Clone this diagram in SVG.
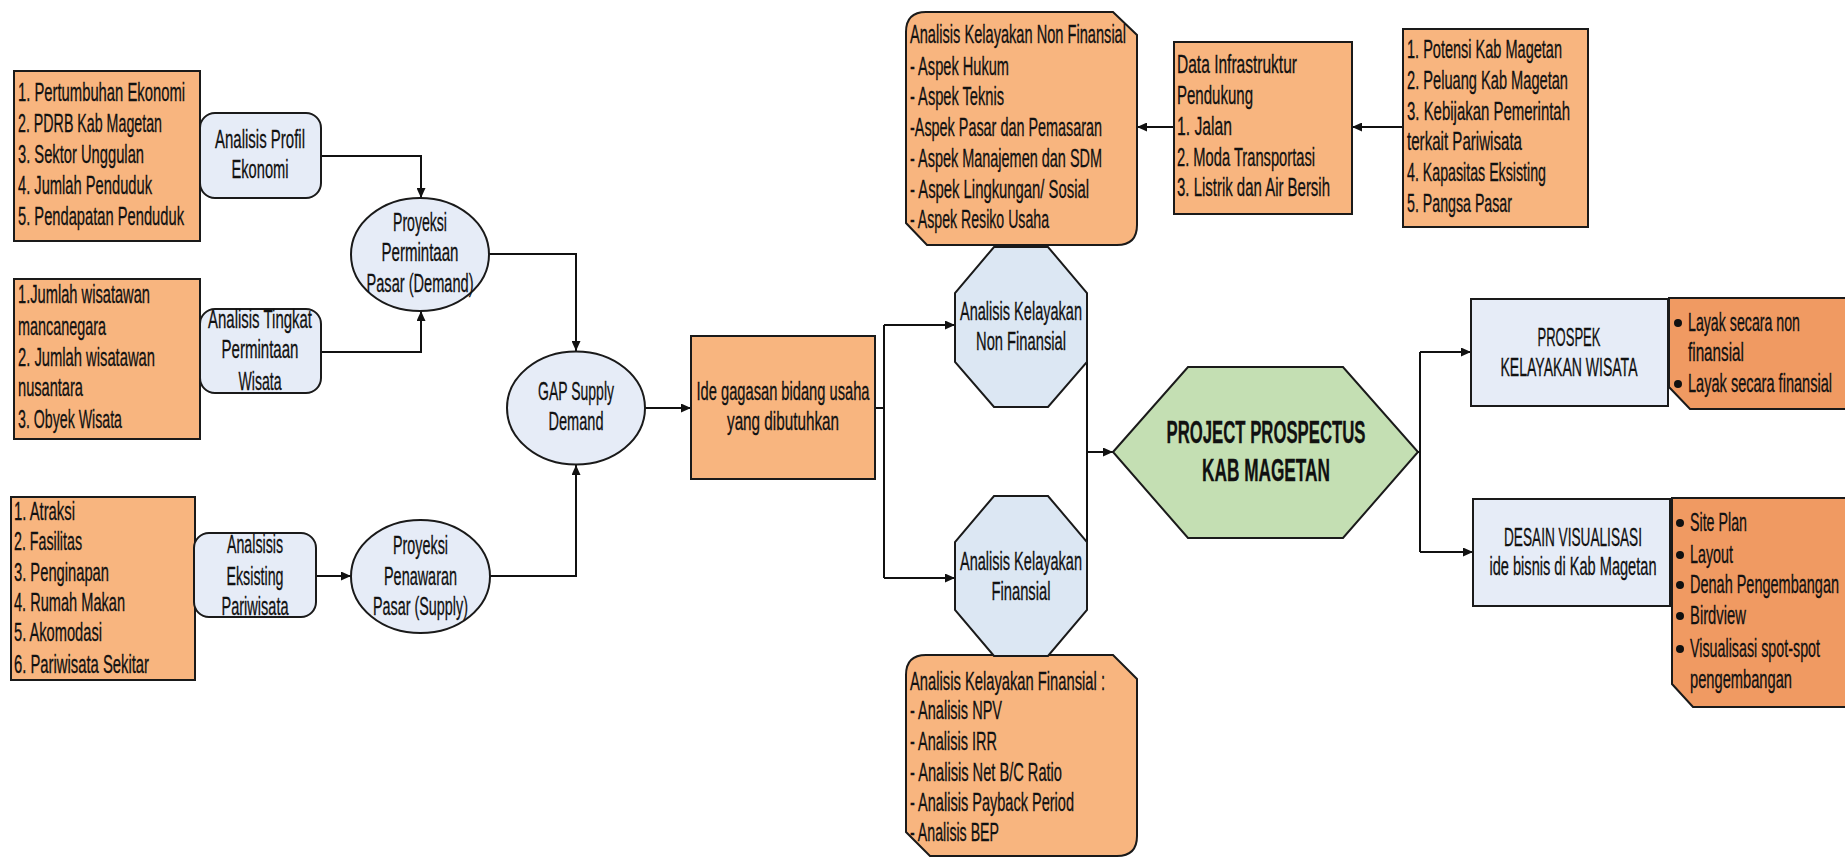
<svg xmlns="http://www.w3.org/2000/svg" width="1845" height="857" viewBox="0 0 1845 857">
<style>
.o{fill:#F8B57F;stroke:#1a1a1a;stroke-width:2}
.o2{fill:#F09A62;stroke:#1a1a1a;stroke-width:2}
.b{fill:#E6ECF7;stroke:#1a1a1a;stroke-width:2}
.oc{fill:#DCE7F3;stroke:#1a1a1a;stroke-width:2}
.g{fill:#C4DFB3;stroke:#1a1a1a;stroke-width:2}
text{font-family:"Liberation Sans",Arial,sans-serif;font-size:25px;fill:#111;stroke:#111;stroke-width:0.3}
.c{text-anchor:middle}
.bold{font-weight:bold;font-size:32px}
.conn{fill:none;stroke:#111;stroke-width:2}
.ar{marker-end:url(#ah)}
</style>
<defs>
<marker id="ah" markerUnits="userSpaceOnUse" markerWidth="11" markerHeight="9" refX="10" refY="4.5" orient="auto">
<path d="M0,0 L10,4.5 L0,9 z" fill="#111"/>
</marker>
</defs>
<rect width="1845" height="857" fill="#fff"/>

<g id="connectors">
<path class="conn ar" d="M321,156 H421 V198"/>
<path class="conn ar" d="M321,352 H421 V311"/>
<path class="conn ar" d="M316,576 H351"/>
<path class="conn ar" d="M489,254 H576 V351"/>
<path class="conn ar" d="M490,576 H576 V465"/>
<path class="conn ar" d="M645,408 H691"/>
<path class="conn" d="M875,408 H884"/>
<path class="conn" d="M884,325 V578"/>
<path class="conn ar" d="M884,325 H955"/>
<path class="conn ar" d="M884,578 H955"/>
<path class="conn" d="M1087,325 V578"/>
<path class="conn ar" d="M1087,452 H1113"/>
<path class="conn" d="M1418,452 H1420"/>
<path class="conn" d="M1420,352 V552"/>
<path class="conn ar" d="M1420,352 H1471"/>
<path class="conn ar" d="M1420,552 H1473"/>
<path class="conn ar" d="M1403,127 H1352"/>
<path class="conn ar" d="M1174,127 H1137"/>
</g>

<g id="box-ekonomi">
<rect class="o" x="14" y="71" width="186" height="170"/>
<text x="18" y="101" textLength="167" lengthAdjust="spacingAndGlyphs">1. Pertumbuhan Ekonomi</text>
<text x="18" y="132" textLength="144" lengthAdjust="spacingAndGlyphs">2. PDRB Kab Magetan</text>
<text x="18" y="163" textLength="126" lengthAdjust="spacingAndGlyphs">3. Sektor Unggulan</text>
<text x="18" y="194" textLength="134" lengthAdjust="spacingAndGlyphs">4. Jumlah Penduduk</text>
<text x="18" y="225" textLength="166" lengthAdjust="spacingAndGlyphs">5. Pendapatan Penduduk</text>
</g>

<g id="box-wisatawan">
<rect class="o" x="14" y="279" width="186" height="160"/>
<text x="18" y="303" textLength="132" lengthAdjust="spacingAndGlyphs">1.Jumlah wisatawan</text>
<text x="18" y="335" textLength="88" lengthAdjust="spacingAndGlyphs">mancanegara</text>
<text x="18" y="366" textLength="137" lengthAdjust="spacingAndGlyphs">2. Jumlah wisatawan</text>
<text x="18" y="396" textLength="65" lengthAdjust="spacingAndGlyphs">nusantara</text>
<text x="18" y="428" textLength="104" lengthAdjust="spacingAndGlyphs">3. Obyek Wisata</text>
</g>

<g id="box-atraksi">
<rect class="o" x="11" y="497" width="184" height="183"/>
<text x="14" y="520" textLength="61" lengthAdjust="spacingAndGlyphs">1. Atraksi</text>
<text x="14" y="550" textLength="68" lengthAdjust="spacingAndGlyphs">2. Fasilitas</text>
<text x="14" y="581" textLength="95" lengthAdjust="spacingAndGlyphs">3. Penginapan</text>
<text x="14" y="611" textLength="111" lengthAdjust="spacingAndGlyphs">4. Rumah Makan</text>
<text x="14" y="641" textLength="88" lengthAdjust="spacingAndGlyphs">5. Akomodasi</text>
<text x="14" y="673" textLength="135" lengthAdjust="spacingAndGlyphs">6. Pariwisata Sekitar</text>
</g>

<g id="node-profil">
<rect class="b" x="200" y="113" width="121" height="85" rx="15"/>
<text class="c" x="260" y="148" textLength="90" lengthAdjust="spacingAndGlyphs">Analisis Profil</text>
<text class="c" x="260" y="178" textLength="57" lengthAdjust="spacingAndGlyphs">Ekonomi</text>
</g>

<g id="node-tingkat">
<rect class="b" x="200" y="309" width="121" height="84" rx="15"/>
<text class="c" x="260" y="328" textLength="104" lengthAdjust="spacingAndGlyphs">Analisis Tingkat</text>
<text class="c" x="260" y="358" textLength="77" lengthAdjust="spacingAndGlyphs">Permintaan</text>
<text class="c" x="260" y="390" textLength="43" lengthAdjust="spacingAndGlyphs">Wisata</text>
</g>

<g id="node-eksisting">
<rect class="b" x="194" y="533" width="122" height="84" rx="15"/>
<text class="c" x="255" y="553" textLength="56" lengthAdjust="spacingAndGlyphs">Analsisis</text>
<text class="c" x="255" y="585" textLength="57" lengthAdjust="spacingAndGlyphs">Eksisting</text>
<text class="c" x="255" y="615" textLength="67" lengthAdjust="spacingAndGlyphs">Pariwisata</text>
</g>

<g id="node-permintaan">
<ellipse class="b" cx="420" cy="254.5" rx="69" ry="56.5"/>
<text class="c" x="420" y="231" textLength="54" lengthAdjust="spacingAndGlyphs">Proyeksi</text>
<text class="c" x="420" y="261" textLength="77" lengthAdjust="spacingAndGlyphs">Permintaan</text>
<text class="c" x="420" y="292" textLength="107" lengthAdjust="spacingAndGlyphs">Pasar (Demand)</text>
</g>

<g id="node-penawaran">
<ellipse class="b" cx="420.5" cy="576.5" rx="69.5" ry="56.5"/>
<text class="c" x="420.5" y="554" textLength="55" lengthAdjust="spacingAndGlyphs">Proyeksi</text>
<text class="c" x="420.5" y="585" textLength="73" lengthAdjust="spacingAndGlyphs">Penawaran</text>
<text class="c" x="420.5" y="615" textLength="95" lengthAdjust="spacingAndGlyphs">Pasar (Supply)</text>
</g>

<g id="node-gap">
<ellipse class="b" cx="576" cy="408" rx="69" ry="56.5"/>
<text class="c" x="576" y="400" textLength="76" lengthAdjust="spacingAndGlyphs">GAP Supply</text>
<text class="c" x="576" y="430" textLength="55" lengthAdjust="spacingAndGlyphs">Demand</text>
</g>

<g id="node-ide">
<rect class="o" x="691" y="336" width="184" height="143"/>
<text class="c" x="783" y="400" textLength="173" lengthAdjust="spacingAndGlyphs">Ide gagasan bidang usaha</text>
<text class="c" x="783" y="430" textLength="112" lengthAdjust="spacingAndGlyphs">yang dibutuhkan</text>
</g>

<g id="box-nonfinansial">
<path class="o" d="M926,12 H1113 L1137,35 V225 Q1137,245 1117,245 H927 L906,223 V32 Q906,12 926,12 Z"/>
<text x="910" y="43" textLength="216" lengthAdjust="spacingAndGlyphs">Analisis Kelayakan Non Finansial</text>
<text x="910" y="75" textLength="99" lengthAdjust="spacingAndGlyphs">- Aspek Hukum</text>
<text x="910" y="105" textLength="94" lengthAdjust="spacingAndGlyphs">- Aspek Teknis</text>
<text x="910" y="136" textLength="192" lengthAdjust="spacingAndGlyphs">-Aspek Pasar dan Pemasaran</text>
<text x="910" y="167" textLength="192" lengthAdjust="spacingAndGlyphs">- Aspek Manajemen dan SDM</text>
<text x="910" y="198" textLength="179" lengthAdjust="spacingAndGlyphs">- Aspek Lingkungan/ Sosial</text>
<text x="910" y="228" textLength="139" lengthAdjust="spacingAndGlyphs">- Aspek Resiko Usaha</text>
</g>

<g id="box-infrastruktur">
<rect class="o" x="1174" y="42" width="178" height="172"/>
<text x="1177" y="73" textLength="120" lengthAdjust="spacingAndGlyphs">Data Infrastruktur</text>
<text x="1177" y="104" textLength="76" lengthAdjust="spacingAndGlyphs">Pendukung</text>
<text x="1177" y="135" textLength="55" lengthAdjust="spacingAndGlyphs">1. Jalan</text>
<text x="1177" y="166" textLength="138" lengthAdjust="spacingAndGlyphs">2. Moda Transportasi</text>
<text x="1177" y="196" textLength="153" lengthAdjust="spacingAndGlyphs">3. Listrik dan Air Bersih</text>
</g>

<g id="box-potensi">
<rect class="o" x="1403" y="29" width="185" height="198"/>
<text x="1407" y="58" textLength="155" lengthAdjust="spacingAndGlyphs">1. Potensi Kab Magetan</text>
<text x="1407" y="89" textLength="161" lengthAdjust="spacingAndGlyphs">2. Peluang Kab Magetan</text>
<text x="1407" y="120" textLength="163" lengthAdjust="spacingAndGlyphs">3. Kebijakan Pemerintah</text>
<text x="1407" y="150" textLength="115" lengthAdjust="spacingAndGlyphs">terkait Pariwisata</text>
<text x="1407" y="181" textLength="139" lengthAdjust="spacingAndGlyphs">4. Kapasitas Eksisting</text>
<text x="1407" y="212" textLength="105" lengthAdjust="spacingAndGlyphs">5. Pangsa Pasar</text>
</g>

<g id="node-nonfinansial">
<polygon class="oc" points="994,247 1048,247 1087,293 1087,362 1048,407 994,407 955,362 955,293"/>
<text class="c" x="1021" y="320" textLength="122" lengthAdjust="spacingAndGlyphs">Analisis Kelayakan</text>
<text class="c" x="1021" y="350" textLength="90" lengthAdjust="spacingAndGlyphs">Non Finansial</text>
</g>

<g id="box-finansial">
<path class="o" d="M926,655 H1113 L1137,679 V836 Q1137,856 1117,856 H930 L906,832 V675 Q906,655 926,655 Z"/>
<text x="910" y="690" textLength="195" lengthAdjust="spacingAndGlyphs">Analisis Kelayakan Finansial :</text>
<text x="910" y="719" textLength="92" lengthAdjust="spacingAndGlyphs">- Analisis NPV</text>
<text x="910" y="750" textLength="87" lengthAdjust="spacingAndGlyphs">- Analisis IRR</text>
<text x="910" y="781" textLength="152" lengthAdjust="spacingAndGlyphs">- Analisis Net B/C Ratio</text>
<text x="910" y="811" textLength="164" lengthAdjust="spacingAndGlyphs">- Analisis Payback Period</text>
<text x="910" y="841" textLength="89" lengthAdjust="spacingAndGlyphs">- Analisis BEP</text>
</g>

<g id="node-finansial">
<polygon class="oc" points="994,496 1048,496 1087,542 1087,610 1048,656 994,656 955,610 955,542"/>
<text class="c" x="1021" y="570" textLength="122" lengthAdjust="spacingAndGlyphs">Analisis Kelayakan</text>
<text class="c" x="1021" y="600" textLength="59" lengthAdjust="spacingAndGlyphs">Finansial</text>
</g>

<g id="node-prospectus">
<polygon class="g" points="1113,452 1188,367 1343,367 1418,452 1343,538 1188,538"/>
<text class="c bold" x="1266" y="443" textLength="199" lengthAdjust="spacingAndGlyphs">PROJECT PROSPECTUS</text>
<text class="c bold" x="1266" y="481" textLength="128" lengthAdjust="spacingAndGlyphs">KAB MAGETAN</text>
</g>

<g id="node-prospek">
<rect class="b" x="1471" y="299" width="197" height="107"/>
<text class="c" x="1569" y="346" textLength="63" lengthAdjust="spacingAndGlyphs">PROSPEK</text>
<text class="c" x="1569" y="376" textLength="137" lengthAdjust="spacingAndGlyphs">KELAYAKAN WISATA</text>
</g>

<g id="box-layak">
<path class="o2" d="M1669,298 H1852 V409 H1690 L1669,387 Z"/>
<circle cx="1678" cy="323" r="4" fill="#111"/>
<circle cx="1678" cy="384" r="4" fill="#111"/>
<text x="1688" y="331" textLength="112" lengthAdjust="spacingAndGlyphs">Layak secara non</text>
<text x="1688" y="361" textLength="56" lengthAdjust="spacingAndGlyphs">finansial</text>
<text x="1688" y="392" textLength="144" lengthAdjust="spacingAndGlyphs">Layak secara finansial</text>
</g>

<g id="node-desain">
<rect class="b" x="1473" y="499" width="197" height="107"/>
<text class="c" x="1573" y="546" textLength="138" lengthAdjust="spacingAndGlyphs">DESAIN VISUALISASI</text>
<text class="c" x="1573" y="575" textLength="167" lengthAdjust="spacingAndGlyphs">ide bisnis di Kab Magetan</text>
</g>

<g id="box-visual">
<path class="o2" d="M1672,498 H1852 V707 H1693 L1672,684 Z"/>
<circle cx="1680" cy="523" r="4" fill="#111"/>
<circle cx="1680" cy="555" r="4" fill="#111"/>
<circle cx="1680" cy="585" r="4" fill="#111"/>
<circle cx="1680" cy="616" r="4" fill="#111"/>
<circle cx="1680" cy="649" r="4" fill="#111"/>
<text x="1690" y="531" textLength="57" lengthAdjust="spacingAndGlyphs">Site Plan</text>
<text x="1690" y="563" textLength="43" lengthAdjust="spacingAndGlyphs">Layout</text>
<text x="1690" y="593" textLength="149" lengthAdjust="spacingAndGlyphs">Denah Pengembangan</text>
<text x="1690" y="624" textLength="56" lengthAdjust="spacingAndGlyphs">Birdview</text>
<text x="1690" y="657" textLength="130" lengthAdjust="spacingAndGlyphs">Visualisasi spot-spot</text>
<text x="1690" y="688" textLength="102" lengthAdjust="spacingAndGlyphs">pengembangan</text>
</g>
</svg>
